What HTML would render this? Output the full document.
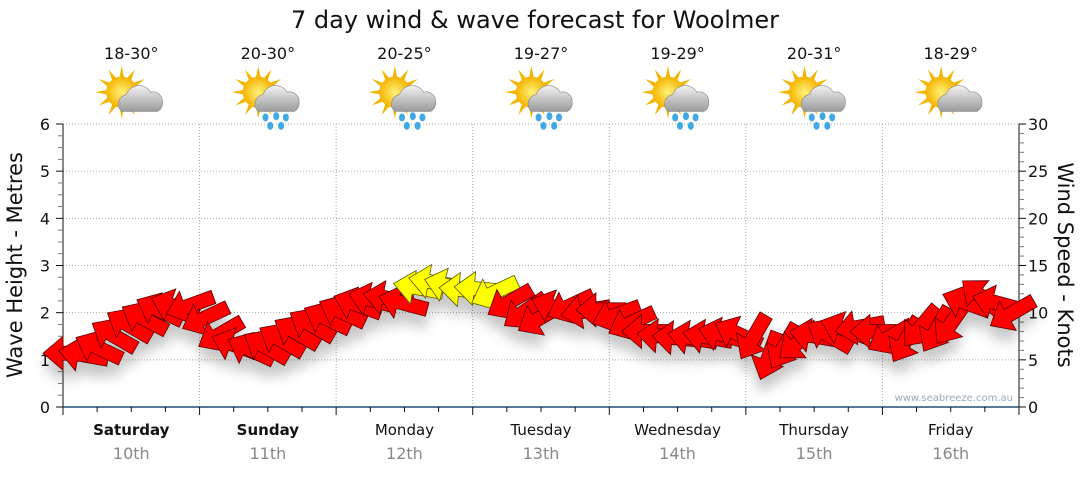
<!DOCTYPE html>
<html><head><meta charset="utf-8"><style>
body{margin:0;background:#fff;width:1080px;height:475px;overflow:hidden;font-family:"DejaVu Sans","Liberation Sans",sans-serif}
</style></head><body>
<svg id="chart" width="1080" height="475" xmlns="http://www.w3.org/2000/svg">
<defs>
<filter id="sh" x="-30%" y="-30%" width="160%" height="200%"><feDropShadow dx="0" dy="12" stdDeviation="6" flood-color="#000" flood-opacity="0.22"/></filter>
<radialGradient id="sun" cx="50%" cy="50%" r="50%"><stop offset="0" stop-color="#fff27a"/><stop offset="1" stop-color="#f5b400"/></radialGradient>
<linearGradient id="cloud" x1="0" y1="0" x2="0" y2="1"><stop offset="0" stop-color="#f2f2f2"/><stop offset="1" stop-color="#9a9a9a"/></linearGradient>
</defs>
<text x="535" y="28" text-anchor="middle" font-size="24" fill="#111">7 day wind &amp; wave forecast for Woolmer</text>
<g id="grid"></g><g id="axes"></g><g id="icons"></g><g id="arrows" filter="url(#sh)"></g>
<text transform="translate(22,265) rotate(-90)" text-anchor="middle" font-size="21" fill="#111">Wave Height - Metres</text>
<text transform="translate(1058,265) rotate(90)" text-anchor="middle" font-size="21" fill="#111">Wind Speed - Knots</text>
<text x="1013" y="401" text-anchor="end" font-size="10" fill="#9aa8bb">www.seabreeze.com.au</text>
</svg>
<script>
const days=["Saturday","Sunday","Monday","Tuesday","Wednesday","Thursday","Friday"];
const dates=["10th","11th","12th","13th","14th","15th","16th"];
const boldDays=[true,true,false,false,false,false,false];
const temps=["18-30°","20-30°","20-25°","19-27°","19-29°","20-31°","18-29°"];
const rain=[false,true,true,true,true,true,false];
const waveTicks=[0,1,2,3,4,5,6];
const windTicks=[0,5,10,15,20,25,30];
const windSpeed=[5.7,5.5,6.2,7.5,8.6,9.3,10.2,10.6,10.8,9.5,7.8,6.5,6.0,6.3,7.0,7.8,8.6,9.3,10.0,10.8,11.3,11.5,11.0,12.6,13.2,12.8,12.4,12.5,12.2,11.2,10.2,9.5,10.5,10.8,10.2,10.3,9.8,9.0,8.0,7.5,7.3,7.3,7.4,7.6,7.7,7.5,5.5,6.5,7.0,7.5,7.5,8.2,8.5,8.0,7.5,7.2,8.6,8.3,9.0,11.0,11.6,11.0,10.0];
const windDir=[0,10,25,30,30,28,25,20,-20,-25,-30,20,25,30,30,30,30,25,25,20,15,10,15,10,10,15,5,5,-25,-30,-35,-30,20,-25,-10,0,-20,-25,0,5,5,10,10,15,25,-60,-70,-60,-40,10,30,20,-10,0,-30,-60,-50,-60,-55,20,40,15,-30];
const X0=63,X1=1019,Y0=407,YT=124,N=windSpeed.length;
const xs=i=>X0+(i+0.4)*(X1-X0)/(N-0.2);
const yW=m=>Y0-m*(Y0-YT)/6;
const yK=k=>Y0-k*(Y0-YT)/30;
const NS="http://www.w3.org/2000/svg";
function mk(t,a,p){const e=document.createElementNS(NS,t);for(const k in a)e.setAttribute(k,a[k]);(p||document.getElementById('chart')).appendChild(e);return e;}
const grid=document.getElementById('grid'),axes=document.getElementById('axes'),icons=document.getElementById('icons'),arr=document.getElementById('arrows');
const dw=(X1-X0)/7;
waveTicks.forEach(m=>{if(m>0){const g=mk('line',{x1:X0,x2:X1,y1:yW(m),y2:yW(m),stroke:'#aaa','stroke-dasharray':'1,2'},grid);}
const t=mk('text',{x:50,y:yW(m)+6,'text-anchor':'end','font-size':16,fill:'#111'},axes);t.textContent=m;});
windTicks.forEach(k=>{const t=mk('text',{x:1028,y:yK(k)+6,'font-size':16,fill:'#111'},axes);t.textContent=k;});
for(let d=1;d<7;d++){const g=mk('line',{x1:X0+d*dw,x2:X0+d*dw,y1:YT,y2:Y0,stroke:'#aaa','stroke-dasharray':'1,2'},grid);}
mk('line',{x1:X0,x2:X0,y1:YT,y2:Y0+8,stroke:'#111'},axes);
mk('line',{x1:X1,x2:X1,y1:YT,y2:Y0,stroke:'#111'},axes);
mk('line',{x1:X0,x2:X1,y1:Y0,y2:Y0,stroke:'#1f4e79','stroke-width':1.5},axes);
for(let i=0;i<=24;i++){const y=yW(i/4);mk('line',{x1:X0-(i%4?5:7),x2:X0,y1:y,y2:y,stroke:i%4?'#777':'#111'},axes);}
for(let k=0;k<=30;k++){const y=yK(k);mk('line',{x1:X1,x2:X1+(k%5?5:7),y1:y,y2:y,stroke:k%5?'#777':'#111'},axes);}
for(let q=0;q<=28;q++){const x=X0+q*dw/4;mk('line',{x1:x,x2:x,y1:Y0,y2:Y0+(q%4?5:8),stroke:'#111'},axes);}
days.forEach((d,i)=>{const cx=X0+(i+0.5)*dw;
const t=mk('text',{x:cx,y:435,'text-anchor':'middle','font-size':15,fill:'#111','font-weight':boldDays[i]?'bold':'normal'},axes);t.textContent=d;
const t2=mk('text',{x:cx,y:459,'text-anchor':'middle','font-size':16,fill:'#888'},axes);t2.textContent=dates[i];
const t3=mk('text',{x:cx,y:59,'text-anchor':'middle','font-size':16,fill:'#111'},icons);t3.textContent=temps[i];
const g=mk('g',{transform:`translate(${cx},97) scale(1.2)`},icons);
for(let r=0;r<12;r++){const a=r*Math.PI/6;mk('polygon',{points:`${-8+Math.cos(a)*22},${-4+Math.sin(a)*22} ${-8+Math.cos(a+0.2)*11},${-4+Math.sin(a+0.2)*11} ${-8+Math.cos(a-0.2)*11},${-4+Math.sin(a-0.2)*11}`,fill:'#f3b400'},g);}
mk('circle',{cx:-8,cy:-4,r:13,fill:'url(#sun)'},g);
mk('path',{d:'M-8,12 a8,8 0 0 1 4,-14 a11,11 0 0 1 20,-2 a8,8 0 0 1 10,8 a8,8 0 0 1 -4,8 z',fill:'url(#cloud)',stroke:'#888','stroke-width':0.5},g);
if(rain[i]){[[-2,17],[7,16],[15,17],[2,24],[11,24]].forEach(p=>mk('ellipse',{cx:p[0],cy:p[1],rx:2.5,ry:3.3,fill:'#3fa9e6'},g));}
});
windSpeed.forEach((s,i)=>{const x=xs(i),y=yK(s),a=windDir[i];
const p=mk('polygon',{points:'-26,0 -6,-17 -6,-7 24,-7 24,7 -6,7 -6,17',transform:`translate(${x},${y}) rotate(${a})`,fill:s>=12?'#ffff00':'#ff0000',stroke:s>=12?'#5a5a00':'#5a0000','stroke-width':0.8},arr);

});
</script>
</body></html>
